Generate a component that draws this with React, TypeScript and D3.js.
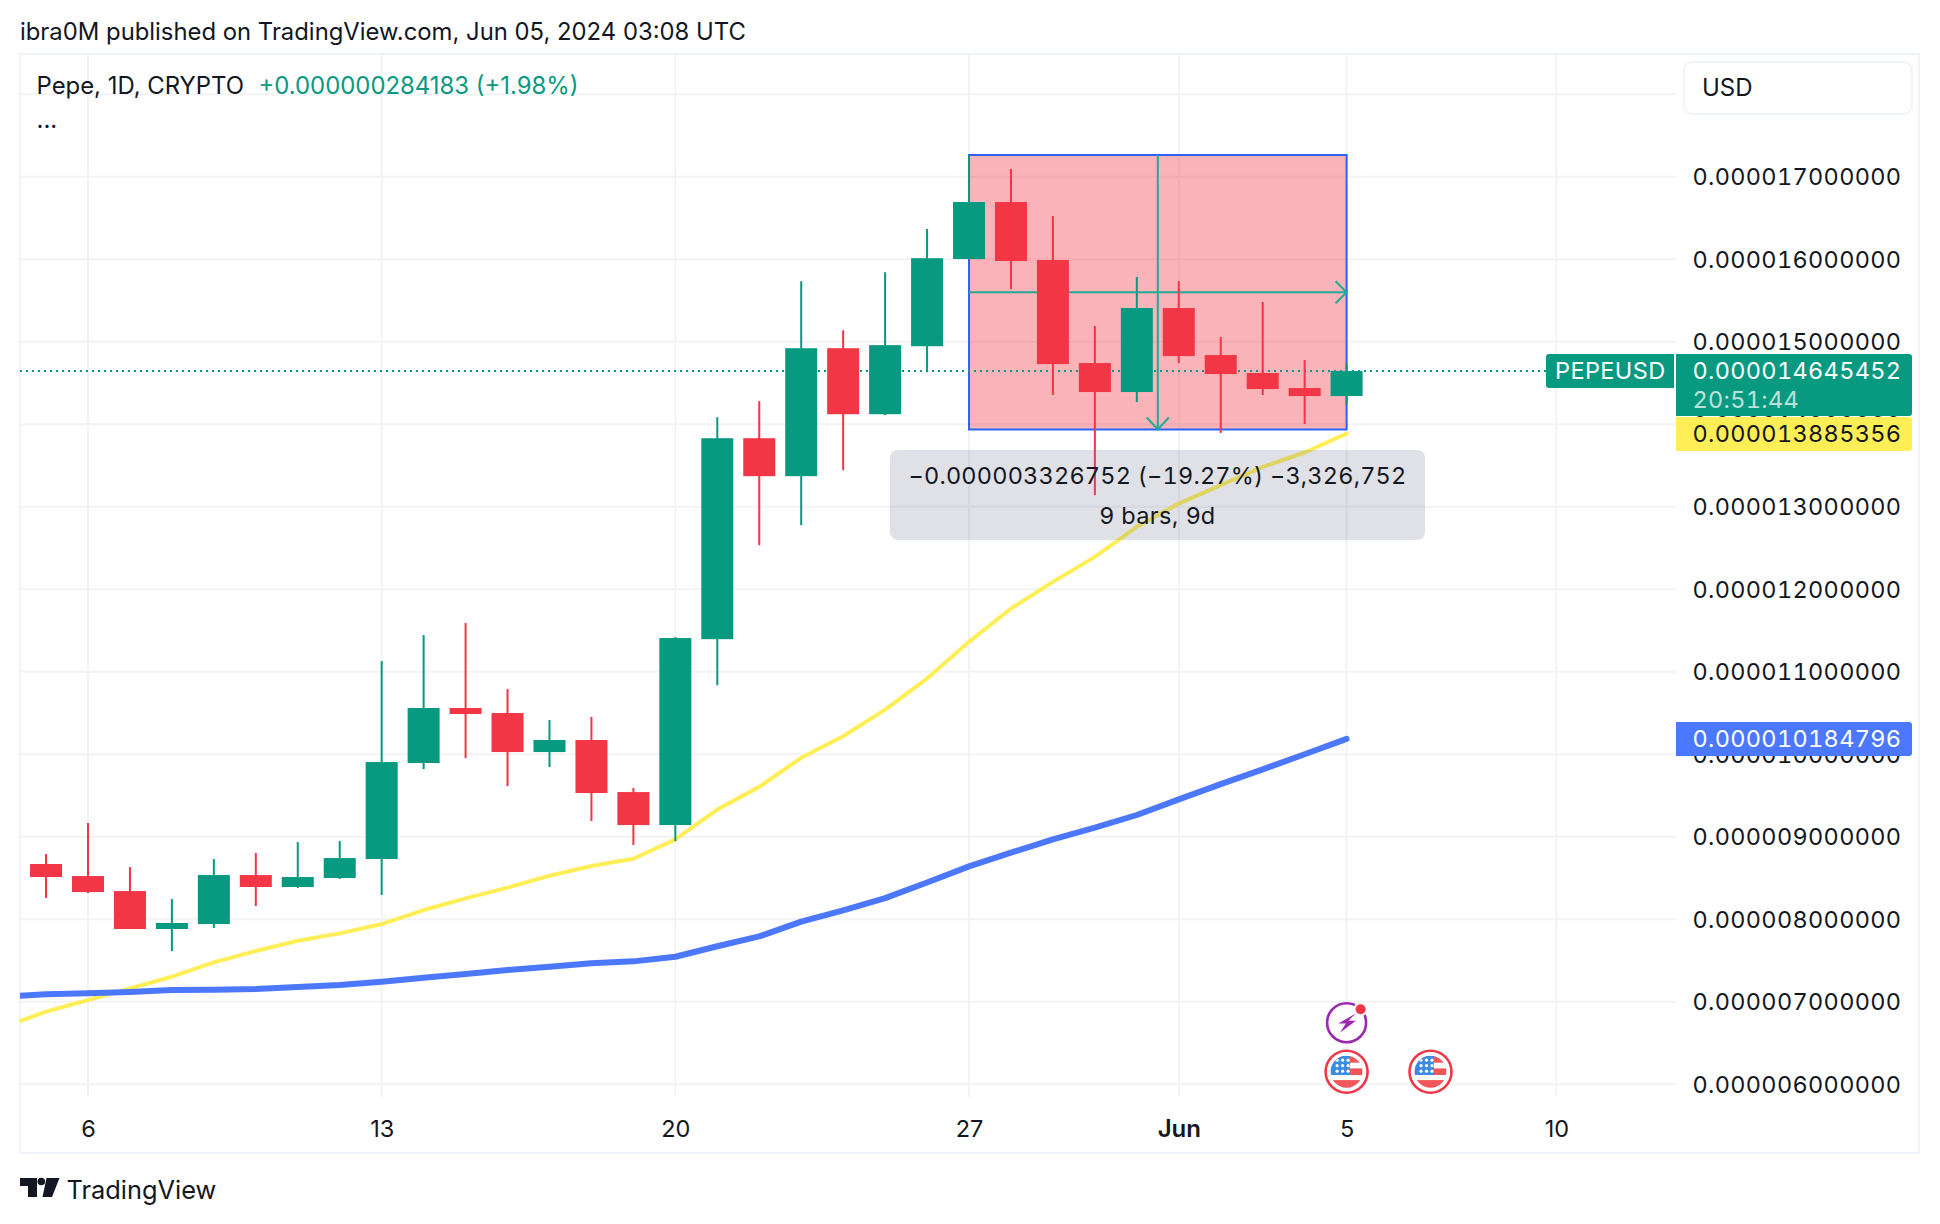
import React from "react";
import * as d3 from "d3";

// Daily candles, May 5 – Jun 5 2024 (units: 1e-6 USD)
const firstDay = "2024-05-05";
const opens = [8.669, 8.523, 8.341, 7.881, 7.941, 8.535, 8.390, 8.499, 8.729, 9.893, 10.560, 10.499, 10.026, 10.172, 9.541, 9.141, 11.394, 13.830, 13.370, 14.921, 14.121, 14.945, 16.002, 16.693, 15.990, 14.741, 14.390, 15.408, 14.838, 14.620, 14.438, 14.341];
const highs = [8.790, 9.166, 8.632, 8.244, 8.729, 8.802, 8.935, 8.947, 11.129, 11.444, 11.590, 10.790, 10.414, 10.451, 9.590, 11.420, 14.085, 14.279, 15.733, 15.139, 15.842, 16.366, 17.263, 17.093, 16.523, 15.190, 15.784, 15.735, 15.057, 15.481, 14.778, 14.741];
const lows = [8.257, 8.317, 7.881, 7.614, 7.893, 8.160, 8.378, 8.487, 8.293, 9.820, 9.954, 9.614, 9.844, 9.190, 8.899, 8.947, 10.836, 12.533, 12.776, 13.442, 14.109, 14.630, 16.002, 15.638, 14.354, 13.141, 14.269, 14.741, 13.893, 14.354, 14.002, 14.232];
const closes = [8.511, 8.329, 7.881, 7.954, 8.535, 8.390, 8.511, 8.741, 9.905, 10.560, 10.487, 10.026, 10.172, 9.529, 9.141, 11.408, 13.830, 13.370, 14.921, 14.121, 14.958, 16.012, 16.693, 15.978, 14.729, 14.390, 15.408, 14.826, 14.608, 14.426, 14.341, 14.645];

// Moving averages, from May 4
const fastMA = [6.697, 6.879, 7.020, 7.162, 7.303, 7.477, 7.614, 7.739, 7.828, 7.941, 8.111, 8.253, 8.382, 8.527, 8.644, 8.733, 8.968, 9.329, 9.604, 9.956, 10.218, 10.541, 10.917, 11.362, 11.766, 12.089, 12.392, 12.756, 13.038, 13.261, 13.483, 13.657, 13.885];
const slowMA = [7.063, 7.089, 7.101, 7.117, 7.141, 7.145, 7.154, 7.178, 7.202, 7.242, 7.291, 7.335, 7.384, 7.424, 7.465, 7.489, 7.545, 7.672, 7.791, 7.971, 8.107, 8.255, 8.445, 8.640, 8.806, 8.968, 9.109, 9.263, 9.453, 9.638, 9.816, 10.000, 10.185];

const priceTicks = [17, 16, 15, 14, 13, 12, 11, 10, 9, 8, 7, 6];
const gridOnlyTicks = [18];
const timeTicks = [
  { date: "2024-05-06", label: "6", bold: false },
  { date: "2024-05-13", label: "13", bold: false },
  { date: "2024-05-20", label: "20", bold: false },
  { date: "2024-05-27", label: "27", bold: false },
  { date: "2024-06-01", label: "Jun", bold: true },
  { date: "2024-06-05", label: "5", bold: false },
  { date: "2024-06-10", label: "10", bold: false },
];

const measureFrom = "2024-05-27";
const measureTo = "2024-06-05";
const measureHigh = 17.263;
const measureLow = 13.936;
const lastPrice = 14.645452;
const fastLast = 13.885356;
const slowLast = 10.184796;
const eventDates = ["2024-06-05", "2024-06-07"];

const GREEN = "#089981";
const RED = "#f23645";
const YELLOW = "#ffee55";
const BLUE = "#4c78ff";
const INK = "#131722";
const GRID = "#f3f3f5";
const FRAME = "#f0f3fa";
const FONT = "Inter, 'Noto Sans', sans-serif";
const TNUM = { fontVariantNumeric: "tabular-nums" } as const;

const plot = { left: 20, right: 1676, top: 54, bottom: 1153, gridBottom: 1097, outer: 1919 };

const x = d3.scaleUtc().domain([new Date("2024-05-06"), new Date("2024-06-05")]).range([88, 1346.6]);
const y = d3.scaleLinear().domain([6, 17]).range([1084.2, 176.7]);

const dayAt = (i: number) => d3.utcDay.offset(new Date(firstDay), i);
const fmt = (v: number) => (v * 1e-6).toFixed(12);

const candles = opens.map((o, i) => ({ date: dayAt(i), o, h: highs[i], l: lows[i], c: closes[i] }));

const maLine = d3
  .line<number>()
  .x((_, i) => x(dayAt(i - 1)))
  .y((d) => y(d));

const BAR = 32;
const labelSize = 23.5;
const LS = 0.32;

function AxisBox({ yTop, h, fill, text, color, sub }: { yTop: number; h: number; fill: string; text: string; color: string; sub?: string }) {
  return (
    <g>
      <path
        d={`M${plot.right} ${yTop}H1909a3 3 0 0 1 3 3V${yTop + h - 3}a3 3 0 0 1 -3 3H${plot.right}Z`}
        fill={fill}
      />
      <text x={1692.5} y={yTop + 25} fontSize={labelSize} letterSpacing={LS} fill={color} style={TNUM}>{text}</text>
      {sub && <text x={1692.5} y={yTop + 54} fontSize={labelSize} letterSpacing={LS} fill={color} opacity={0.72} style={TNUM}>{sub}</text>}
    </g>
  );
}

function UsFlag({ cx, cy, id }: { cx: number; cy: number; id: string }) {
  const stars = [-11.5, -6, -0.5];
  const starsY = [-11.5, -6, -0.5];
  return (
    <g transform={`translate(${cx},${cy})`}>
      <circle r={21} fill="#fff" stroke={RED} strokeWidth={2.6} />
      <clipPath id={id}><circle r={16} /></clipPath>
      <g clipPath={`url(#${id})`}>
        <rect x={-16} y={-16} width={32} height={32} fill="#fff" />
        <rect x={-16} y={-16} width={32} height={7} fill="#f0565a" />
        <rect x={-16} y={-3.3} width={32} height={6.6} fill="#f0565a" />
        <rect x={-16} y={8.4} width={32} height={8} fill="#f0565a" />
        <rect x={-16} y={-16} width={19.3} height={19.3} fill="#3a8be4" />
        {stars.map((sx) => starsY.map((sy) => <circle key={`${sx}${sy}`} cx={sx + 2} cy={sy} r={1.6} fill="#fff" />))}
      </g>
    </g>
  );
}

export default function App() {
  const mx0 = x(new Date(measureFrom));
  const mx1 = x(new Date(measureTo));
  const my0 = y(measureHigh);
  const my1 = y(measureLow);
  const mxc = (mx0 + mx1) / 2;
  const myc = (my0 + my1) / 2;
  return (
    <svg
      width={1940}
      height={1224}
      viewBox="0 0 1940 1224"
      style={{ position: "absolute", left: 0, top: 0, display: "block", background: "#fff" }}
      fontFamily={FONT}
    >
      <defs>
        <clipPath id="pane"><rect x={plot.left} y={plot.top} width={plot.right - plot.left} height={plot.bottom - plot.top} /></clipPath>
      </defs>
      <text x={20} y={40} fontSize={23.85} fill={INK}>ibra0M published on TradingView.com, Jun 05, 2024 03:08 UTC</text>

      {/* grid */}
      {[...gridOnlyTicks, ...priceTicks].map((t) => (
        <line key={t} x1={plot.left} x2={plot.right} y1={y(t)} y2={y(t)} stroke={GRID} strokeWidth={2} />
      ))}
      {timeTicks.map((t) => (
        <line key={t.date} x1={x(new Date(t.date))} x2={x(new Date(t.date))} y1={plot.top} y2={plot.gridBottom} stroke={GRID} strokeWidth={2} />
      ))}
      {/* frame */}
      <rect x={plot.left} y={plot.top} width={plot.outer - plot.left} height={plot.bottom - plot.top} fill="none" stroke={FRAME} strokeWidth={2} />

      {/* measure tool (behind the candles) */}
      <rect x={mx0} y={my0} width={mx1 - mx0} height={my1 - my0} fill={RED} fillOpacity={0.38} stroke="#2962ff" strokeWidth={2} />
      <g stroke="#22ab94" strokeWidth={2} fill="none">
        <path d={`M${mx0} ${myc}H${mx1}M${mx1 - 11} ${myc - 11}L${mx1} ${myc}L${mx1 - 11} ${myc + 11}`} />
        <path d={`M${mxc} ${my0}V${my1}M${mxc - 11} ${my1 - 12}L${mxc} ${my1}L${mxc + 11} ${my1 - 12}`} />
      </g>

      {/* last price */}
      <line x1={plot.left} x2={plot.right} y1={y(lastPrice)} y2={y(lastPrice)} stroke={GREEN} strokeWidth={2} strokeDasharray="2 4" />

      {/* moving averages */}
      <g clipPath="url(#pane)" fill="none" strokeLinejoin="round" strokeLinecap="round">
        <path d={maLine(fastMA) ?? ""} stroke={YELLOW} strokeWidth={4} />
        <path d={maLine(slowMA) ?? ""} stroke={BLUE} strokeWidth={6} />
      </g>

      {/* candles */}
      {candles.map((d) => {
        const up = d.c >= d.o;
        const cx = x(d.date);
        const col = up ? GREEN : RED;
        const top = y(Math.max(d.o, d.c));
        const bot = y(Math.min(d.o, d.c));
        return (
          <g key={+d.date} fill={col}>
            <rect x={cx - 1} y={y(d.h)} width={2} height={y(d.l) - y(d.h)} />
            <rect x={cx - BAR / 2} y={top} width={BAR} height={Math.max(bot - top, 1)} />
          </g>
        );
      })}

      {/* measure label */}
      <rect x={890} y={450} width={535} height={90} rx={8} fill="#787d91" fillOpacity={0.23} />
      <text x={1157.5} y={484} textAnchor="middle" fontSize={23.5} letterSpacing={0.2} fill={INK} style={TNUM}>−0.000003326752 (−19.27%) −3,326,752</text>
      <text x={1157.5} y={524} textAnchor="middle" fontSize={23.5} letterSpacing={0.35} fill={INK}>9 bars, 9d</text>

      {/* legend */}
      <text x={36.5} y={94} fontSize={23.9} fill={INK}>Pepe, 1D, CRYPTO</text>
      <text x={258.5} y={94} fontSize={23.9} fill={GREEN}>+0.000000284183 (+1.98%)</text>
      <text x={36.5} y={128} fontSize={23.9} fill={INK}>...</text>

      {/* events */}
      <g transform={`translate(${x(new Date(eventDates[0]))},1022.7)`}>
        <circle r={19.5} fill="#fff" stroke="#9c27b0" strokeWidth={2.6} />
        <path d="M9.3 -9.3L-8.3 .7H-.7L-6.7 10L9.3 -2H1.7Z" fill="#9c27b0" />
        <circle cx={14} cy={-13.4} r={7} fill="#fff" />
        <circle cx={14} cy={-13.4} r={5} fill={RED} />
      </g>
      {eventDates.map((d, i) => (
        <UsFlag key={d} cx={x(new Date(d))} cy={1071.7} id={`flag${i}`} />
      ))}

      {/* price axis */}
      {priceTicks.map((t) => (
        <text key={t} x={1692.5} y={y(t) + 8.5} fontSize={labelSize} letterSpacing={LS} fill={INK} style={TNUM}>{fmt(t)}</text>
      ))}
      <rect x={1684} y={62} width={228} height={52} rx={8} fill="#fff" stroke={FRAME} strokeWidth={2} />
      <text x={1702} y={96} fontSize={24} fill={INK}>USD</text>

      <path d="M1549 354H1674V388H1549a3 3 0 0 1 -3 -3V357a3 3 0 0 1 3 -3Z" fill={GREEN} />
      <text x={1555} y={379} fontSize={23.5} letterSpacing={0.4} fill="#fff">PEPEUSD</text>
      <AxisBox yTop={354} h={62} fill={GREEN} text={fmt(lastPrice)} color="#fff" sub="20:51:44" />
      <AxisBox yTop={417} h={34} fill={YELLOW} text={fmt(fastLast)} color={INK} />
      <AxisBox yTop={722} h={34} fill={BLUE} text={fmt(slowLast)} color="#fff" />

      {/* time axis */}
      {timeTicks.map((t) => (
        <text key={t.date} x={x(new Date(t.date)) + 0.5} y={1136.5} textAnchor="middle" fontSize={t.bold ? 24 : 23.5} fontWeight={t.bold ? 600 : 400} fill={INK}>{t.label}</text>
      ))}

      {/* logo */}
      <g fill={INK}>
        <path d="M20 1178H37V1197H28V1186H20Z" />
        <circle cx={41.3} cy={1181.5} r={3.8} />
        <path d="M46.5 1178H59.5L52 1197H42.5Z" />
      </g>
      <text x={66.5} y={1199} fontSize={25.4} fill={INK}>TradingView</text>
    </svg>
  );
}
